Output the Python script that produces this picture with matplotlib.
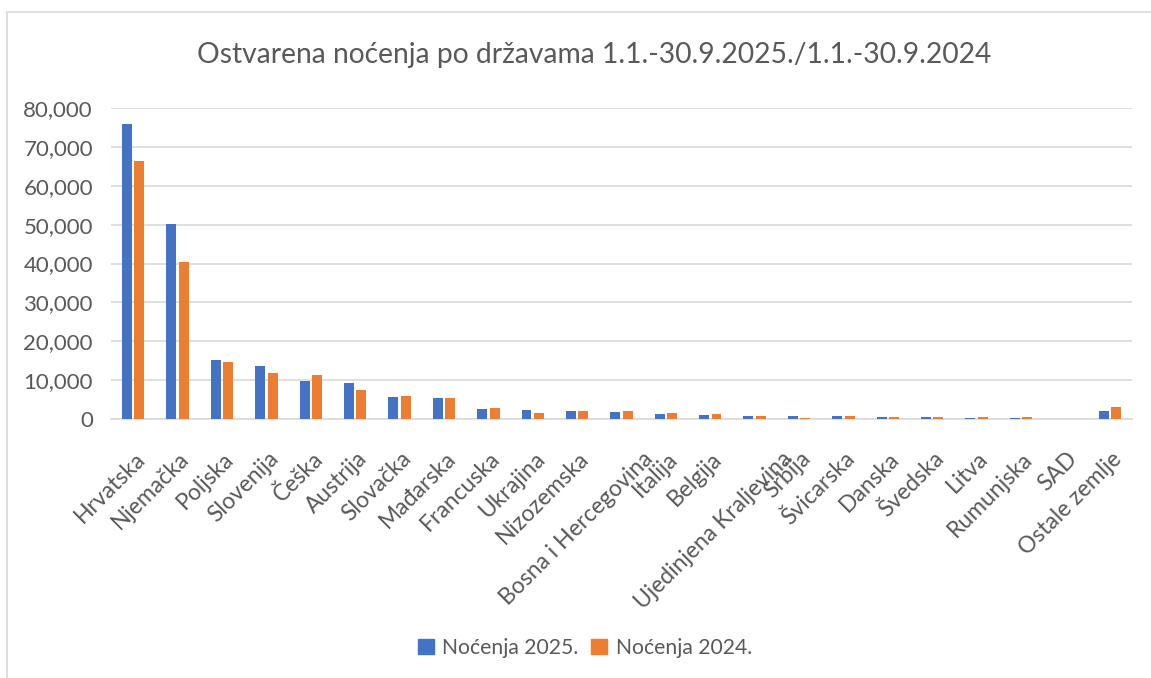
import matplotlib
matplotlib.use("Agg")
import matplotlib.pyplot as plt
import matplotlib.patches as mpatches
from matplotlib.ticker import FuncFormatter
import matplotlib.transforms as mtransforms
import numpy as np

categories = ["Hrvatska", "Njemačka", "Poljska", "Slovenija", "Češka", "Austrija",
              "Slovačka", "Mađarska", "Francuska", "Ukrajina", "Nizozemska",
              "Bosna i Hercegovina", "Italija", "Belgija", "Ujedinjena Kraljevina",
              "Srbija", "Švicarska", "Danska", "Švedska", "Litva", "Rumunjska",
              "SAD", "Ostale zemlje"]
nocenja_2025 = [76000, 50100, 15100, 13600, 9900, 9200, 5700, 5400, 2500, 2200, 2000,
                1750, 1200, 1150, 700, 700, 700, 600, 400, 200, 250, 0, 2100]
nocenja_2024 = [66400, 40400, 14700, 11800, 11200, 7400, 5900, 5400, 2800, 1500, 2000,
                2100, 1500, 1200, 700, 370, 700, 600, 450, 450, 450, 0, 3100]
series_names = ["Noćenja 2025.", "Noćenja 2024."]
title = "Ostvarena noćenja po državama 1.1.-30.9.2025./1.1.-30.9.2024"

FONT = ["Lato", "DejaVu Sans"]
plt.rcParams['font.family'] = FONT
TXT = "#595959"
BLUE = "#4472C4"
ORANGE = "#ED7D31"
GRID = "#D9D9D9"

W, H = 1151, 678
fig = plt.figure(figsize=(W / 100, H / 100), dpi=100)

# chart border
fig.patches.append(mpatches.Rectangle((7 / W, -0.1), 1.2, (H - 12) / H + 0.1,
                                      transform=fig.transFigure, fill=False,
                                      edgecolor=GRID, linewidth=1.2))

left, right, top, bottom = 111, 1132, 108, 419
ax = fig.add_axes([left / W, (H - bottom) / H, (right - left) / W, (bottom - top) / H])

x = np.arange(len(categories))
bw = 0.225
ax.bar(x - 0.14, nocenja_2025, width=bw, color=BLUE, label=series_names[0], zorder=3)
ax.bar(x + 0.14, nocenja_2024, width=bw, color=ORANGE, label=series_names[1], zorder=3)

ax.set_xlim(-0.5, len(categories) - 0.5)
ax.set_ylim(0, 80000)
ax.set_yticks(np.arange(0, 80001, 10000))
ax.yaxis.set_major_formatter(FuncFormatter(lambda v, p: f"{int(v):,}"))
ax.grid(axis='y', color=GRID, linewidth=1.2, zorder=0)
ax.set_axisbelow(True)
for s in ["top", "right", "left"]:
    ax.spines[s].set_visible(False)
ax.spines["bottom"].set_color(GRID)
ax.spines["bottom"].set_linewidth(1.2)
ax.tick_params(axis='y', length=0, pad=13, labelsize=16, labelcolor=TXT)
ax.tick_params(axis='x', length=0)
ax.set_xticks(x)
ax.set_xticklabels([])

# rotated category labels
tr = mtransforms.blended_transform_factory(ax.transData, ax.transAxes)
for i, lab in enumerate(categories):
    extra = max(0, len(lab) - 13) * 3.2
    ax.text(i, 0, lab,
            transform=mtransforms.offset_copy(tr, fig=fig, x=(1 + extra) * 0.72,
                                              y=-29 * 0.72, units='points'),
            rotation=45, rotation_mode='anchor', ha='right', va='top',
            fontsize=16.5, color=TXT)

fig.text(594 / W, 1 - 55 / H, title, ha='center', va='center', fontsize=20.3, color=TXT)

handles = [mpatches.Patch(color=BLUE), mpatches.Patch(color=ORANGE)]
leg = fig.legend(handles, series_names, loc='center', bbox_to_anchor=(585 / W, 1 - 648 / H),
                 ncol=2, frameon=False, fontsize=15.2, handlelength=0.75, handleheight=0.75,
                 handletextpad=0.4, columnspacing=0.6, labelcolor=TXT)

fig.savefig("out.png", dpi=100)
